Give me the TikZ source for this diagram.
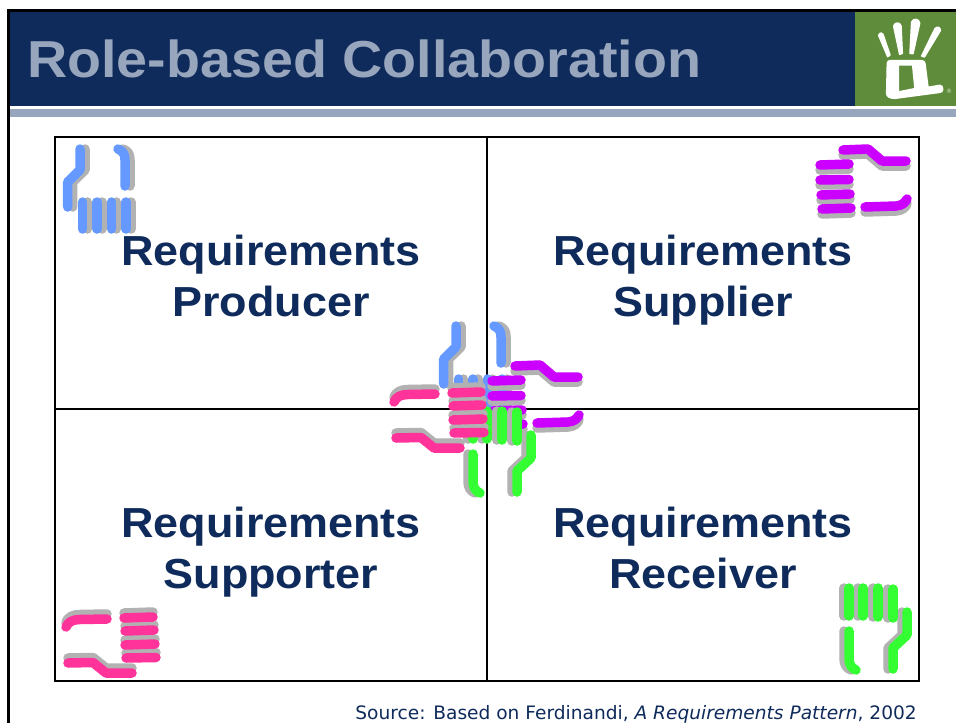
\documentclass[tikz,border=0pt]{standalone}
\usepackage{fontspec}
\setmainfont{DejaVu Sans}
\newfontfamily\titlefont{Liberation Sans}
\definecolor{navy}{HTML}{0F2B5B}
\definecolor{barcol}{HTML}{98A6BD}
\definecolor{logogreen}{HTML}{5F8C3A}
\definecolor{shade}{HTML}{B2B2B2}
\definecolor{handblue}{HTML}{6699FF}
\definecolor{handmag}{HTML}{CC00FF}
\definecolor{handpink}{HTML}{FF3399}
\definecolor{handgreen}{HTML}{33FF33}
\tikzset{
  finger/.style={line width=9.5pt,line cap=round,line join=round},
  rolelabel/.style={font=\titlefont\bfseries\fontsize{42}{51}\selectfont,text=navy,align=center,inner sep=0,xscale=1.07,transform shape},
  logowhite/.style={fill=white,draw=white,line width=1.5pt,line join=round}
}
\newcommand{\bluepaths}{%
  \draw (80,149)--(80,170)--(67.7,182)--(67.7,207);
  \draw (118,149) .. controls (123,151) and (125,154) .. (125,160) -- (125,186);
  \foreach \fx in {82.5,97,111.5,126}{\draw (\fx,202)--(\fx,229);}
}
\newcommand{\magpaths}{%
  \draw (843,150)--(868,149)--(882,161)--(906,161);
  \draw (865,207)--(896,206) .. controls (902,205.5) and (905,203) .. (907,199);
  \draw (820,165)--(849,164); \draw (820,180)--(849,179.5);
  \draw (821,195)--(850,194); \draw (822,209)--(851,208);
}
\newcommand{\pinkpaths}{%
  \draw (66,627) .. controls (68,622) and (73,619.5) .. (80,619.5) -- (107,619);
  \draw (68,663)--(93,662.5)--(106,673)--(132,673);
  \draw (124,618)--(153,617); \draw (125,631)--(154,630);
  \draw (125,645)--(155,644); \draw (126,658)--(156,657.5);
}
\newcommand{\greenpaths}{%
  \draw (849,631)--(849,658) .. controls (849,664) and (851,668) .. (856,670);
  \draw (907,612)--(907,635)--(893,648)--(893,669);
  \draw (849,588)--(849,616); \draw (863,588)--(863,616);
  \draw (878,588)--(878,617); \draw (893,589)--(893,618);
}
% #1 colour, #2 paths, #3 shadow dx, #4 shadow dy, #5 hand shift x, #6 hand shift y
\newcommand{\hand}[6]{%
  \begin{scope}[shift={(#5,#6)}]
    \begin{scope}[shift={(#3,#4)},finger,draw=shade] #2 \end{scope}
    \begin{scope}[finger,draw=#1] #2 \end{scope}
  \end{scope}
}
\begin{document}
\begin{tikzpicture}[x=1pt,y=-1pt]
\useasboundingbox (0,0) rectangle (956,723);
\fill[white] (0,0) rectangle (956,723);
% slide frame
\fill[black] (7,9) rectangle (956,723);
\fill[white] (10,12) rectangle (956,723);
% header
\fill[navy] (10,12) rectangle (956,106);
\fill[barcol] (10,109) rectangle (956,117);
\fill[logogreen] (854.5,12) rectangle (956,106);
\node[anchor=base west,inner sep=0,font=\titlefont\bfseries\fontsize{52}{60}\selectfont,text=barcol,xscale=1.07,transform shape] (title) at (27,77) {Role-based Collaboration};
% logo
\begin{scope}[shift={(800,0)},x=0.3333pt,y=-0.3333pt]
  \path[logowhite] (236,106) .. controls (240,96) and (247,98) .. (250,106) -- (270,165) -- (263,170) -- cycle;
  \path[logowhite] (281,78) .. controls (285,66) and (300,66) .. (303,78) -- (307,160) -- (299,163) -- cycle;
  \path[logowhite] (335,66) .. controls (340,54) and (358,56) .. (359,70) -- (339,161) -- (330,160) -- cycle;
  \path[logowhite] (405,86) .. controls (412,78) and (422,82) .. (421,92) -- (373,171) -- (365,168) -- cycle;
  \path[logowhite,even odd rule] (262,190) .. controls (262,184) and (266,182) .. (272,182) -- (365,182) .. controls (372,182) and (374,186) .. (375,192) -- (384,262) -- (420,256) .. controls (426,256) and (428,262) .. (428,268) .. controls (428,274) and (424,276) .. (420,277) -- (285,295) .. controls (270,295) and (260,290) .. (260,280) -- cycle
    (295,195) -- (338,195) -- (345,266) -- (295,276) -- cycle;
\end{scope}
\node[inner sep=0,font=\fontsize{6}{6}\selectfont,text=white!75!logogreen] (reg) at (949,91) {®};
% grid
\draw[line width=1.3pt,black] (55,137) rectangle (919,681);
\draw[line width=1.3pt,black] (487,137) -- (487,681);
\draw[line width=1.3pt,black] (55,409) -- (919,409);
% corner hands
\hand{handblue}{\bluepaths}{5}{0}{0}{0}
\hand{handmag}{\magpaths}{0}{5}{0}{0}
\hand{handpink}{\pinkpaths}{0}{-5}{0}{0}
\hand{handgreen}{\greenpaths}{-5}{0}{0}{0}
% centre hands
\hand{handblue}{\bluepaths}{5}{0}{376}{177}
\hand{handmag}{\magpaths}{0}{5}{-328}{216}
\hand{handgreen}{\greenpaths}{-5}{0}{-376}{-177}
\hand{handpink}{\pinkpaths}{0}{-5}{328}{-225}
% labels
\node[rolelabel,anchor=center] (prod) at (271,280.5) {\strut Requirements\\Producer\strut};
\node[rolelabel,anchor=center] (supl) at (703,280.5) {\strut Requirements\\Supplier\strut};
\node[rolelabel,anchor=center] (supp) at (271,552.5) {\strut Requirements\\Supporter\strut};
\node[rolelabel,anchor=center] (recv) at (703,552.5) {\strut Requirements\\Receiver\strut};
\node[anchor=base east,inner sep=0,font=\fontsize{18.5}{22}\selectfont,text=navy,xscale=1.005,transform shape] (src) at (917,719) {Source: Based on Ferdinandi, \textit{A Requirements Pattern}, 2002};
\end{tikzpicture}
\end{document}
